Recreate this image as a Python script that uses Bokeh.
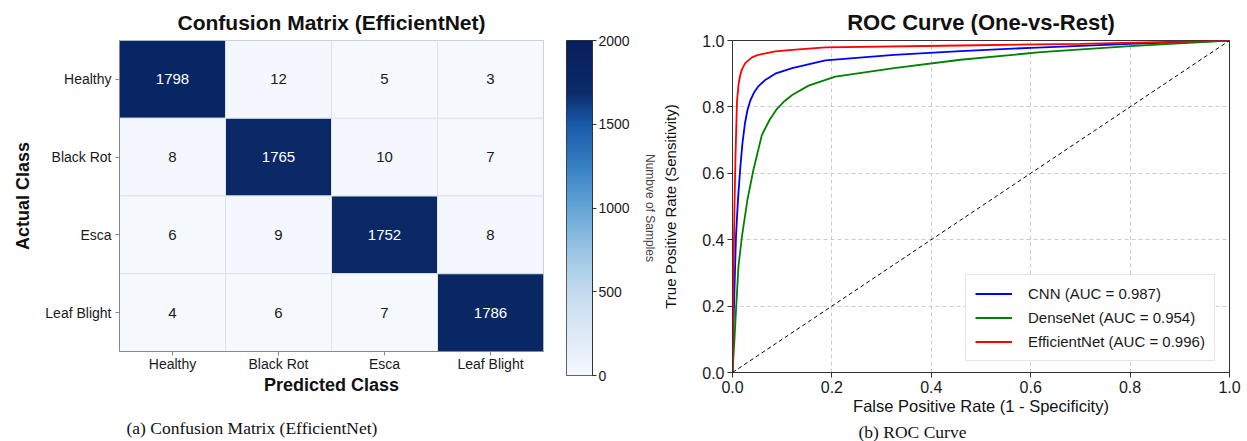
import numpy as np
from bokeh.plotting import figure
from bokeh.layouts import row
from bokeh.models import (FactorRange, Range1d, LinearColorMapper, ColumnDataSource,
                          Title, Legend, LegendItem, FixedTicker, PrintfTickFormatter)
from bokeh.embed import file_html
from bokeh.resources import INLINE
from bokeh.core.properties import value

# ---------------- data ----------------
classes = ["Healthy", "Black Rot", "Esca", "Leaf Blight"]
cm_healthy = [1798, 12, 5, 3]
cm_black_rot = [8, 1765, 10, 7]
cm_esca = [6, 9, 1752, 8]
cm_leaf_blight = [4, 6, 7, 1786]
cbar_ticks = [0, 500, 1000, 1500, 2000]

cnn_fpr = [0.0, 0.003, 0.007, 0.011, 0.0155, 0.02, 0.025, 0.03, 0.036, 0.044, 0.052, 0.065, 0.086, 0.12, 0.187, 0.325, 0.459, 0.6, 0.8, 1.0]
cnn_tpr = [0.0, 0.2, 0.41, 0.52, 0.614, 0.69, 0.75, 0.79, 0.82, 0.845, 0.862, 0.88, 0.9, 0.917, 0.94, 0.957, 0.968, 0.978, 0.99, 1.0]
dense_fpr = [0.0, 0.004, 0.0075, 0.012, 0.019, 0.03, 0.042, 0.059, 0.075, 0.09, 0.105, 0.12, 0.153, 0.207, 0.325, 0.459, 0.62, 0.8, 1.0]
dense_tpr = [0.0, 0.1, 0.2, 0.32, 0.41, 0.52, 0.61, 0.715, 0.762, 0.795, 0.818, 0.836, 0.864, 0.891, 0.917, 0.942, 0.965, 0.983, 1.0]
eff_fpr = [0.0, 0.002, 0.004, 0.006, 0.009, 0.012, 0.0155, 0.019, 0.0256, 0.039, 0.052, 0.086, 0.12, 0.187, 0.46, 0.7, 1.0]
eff_tpr = [0.0, 0.3, 0.5, 0.65, 0.816, 0.866, 0.896, 0.913, 0.932, 0.949, 0.957, 0.967, 0.972, 0.979, 0.985, 0.99, 1.0]
chance = [0.0, 1.0]
roc_ticks = [0.0, 0.2, 0.4, 0.6, 0.8, 1.0]
legend_labels = ["CNN (AUC = 0.987)", "DenseNet (AUC = 0.954)", "EfficientNet (AUC = 0.996)"]

FONT = "Liberation Sans"
SERIF = "Liberation Serif"

# ---------------- colour map (Blues-like, as in the picture) ----------------
anchor_pos = [0.0, 0.125, 0.25, 0.375, 0.5, 0.625, 0.75, 0.85, 1.0]
anchor_hex = ["#f5f9fe", "#dde9f6", "#c4dbef", "#98c4e4", "#64a5d6",
              "#3680c4", "#1a5aaa", "#0a2a68", "#081f5c"]


def _rgb(h):
    return [int(h[i:i + 2], 16) for i in (1, 3, 5)]


_t = np.linspace(0, 1, 256)
_chan = np.array([_rgb(h) for h in anchor_hex])
palette = ["#%02x%02x%02x" % tuple(int(round(np.interp(t, anchor_pos, _chan[:, k]))) for k in range(3))
           for t in _t]
mapper = LinearColorMapper(palette=palette, low=cbar_ticks[0], high=cbar_ticks[-1])

# ---------------- confusion matrix ----------------
rows = [cm_healthy, cm_black_rot, cm_esca, cm_leaf_blight]
xs, ys, vals, labels, tcol = [], [], [], [], []
for i, actual in enumerate(classes):
    for j, pred in enumerate(classes):
        v = rows[i][j]
        xs.append(pred); ys.append(actual); vals.append(v); labels.append(str(v))
        tcol.append("white" if v > 1000 else "#1a1a1a")
src = ColumnDataSource(dict(x=xs, y=ys, v=vals, label=labels, tcol=tcol))

p1 = figure(x_range=FactorRange(*classes), y_range=FactorRange(*classes[::-1]),
            frame_width=424, frame_height=311,
            min_border_left=119, min_border_right=10, min_border_top=37, min_border_bottom=93,
            output_backend="svg", toolbar_location=None)
p1.rect(x="x", y="y", width=1, height=1, source=src,
        fill_color={"field": "v", "transform": mapper}, line_color="#dde3ec", line_width=1)
p1.text(x="x", y="y", text="label", source=src, text_color="tcol", text_align="center",
        text_baseline="middle", text_font=value(FONT), text_font_size="15px")
p1.grid.visible = False
p1.outline_line_color = "#aaaaaa"
for ax in (p1.xaxis, p1.yaxis):
    ax.axis_line_color = "#888888"
    ax.major_tick_line_color = "#888888"
    ax.major_tick_out = 4
    ax.major_tick_in = 0
    ax.major_label_text_font = FONT
    ax.major_label_text_font_size = "14px"
    ax.major_label_text_color = "#1a1a1a"
    ax.axis_label_text_font = FONT
    ax.axis_label_text_font_size = "18px"
    ax.axis_label_text_font_style = "bold"
    ax.axis_label_text_color = "#111111"
p1.xaxis.axis_label = "Predicted Class"
p1.yaxis.axis_label = "Actual Class"
p1.xaxis.major_label_standoff = 0
p1.yaxis.major_label_standoff = 4
p1.xaxis.axis_label_standoff = 0
p1.yaxis.axis_label_standoff = 9
p1.add_layout(Title(text="Confusion Matrix (EfficientNet)", align="center", text_font=FONT,
                    text_font_size="21px", text_font_style="bold", text_color="#111111",
                    standoff=14), "above")
p1.add_layout(Title(text="(a) Confusion Matrix (EfficientNet)", align="left", offset=7,
                    text_font=SERIF, text_font_size="17.5px", text_font_style="normal",
                    text_color="#111111", standoff=36), "below")

# ---------------- colorbar ----------------
p2 = figure(x_range=Range1d(0, 1), y_range=Range1d(cbar_ticks[0], cbar_ticks[-1]),
            frame_width=26, frame_height=335,
            min_border_left=13, min_border_right=67, min_border_top=37, min_border_bottom=69,
            y_axis_location="right", output_backend="svg", toolbar_location=None)
grad = np.linspace(cbar_ticks[0], cbar_ticks[-1], 256).reshape(256, 1)
p2.image(image=[grad], x=0, y=cbar_ticks[0], dw=1, dh=cbar_ticks[-1] - cbar_ticks[0],
         color_mapper=mapper)
p2.xaxis.visible = False
p2.grid.visible = False
p2.outline_line_color = "#333333"
p2.yaxis.ticker = FixedTicker(ticks=cbar_ticks)
p2.yaxis.minor_tick_line_color = None
p2.yaxis.axis_line_color = "#333333"
p2.yaxis.major_tick_line_color = "#333333"
p2.yaxis.major_tick_out = 4
p2.yaxis.major_tick_in = 0
p2.yaxis.major_label_standoff = 2
p2.yaxis.major_label_text_font = FONT
p2.yaxis.major_label_text_font_size = "14px"
p2.yaxis.major_label_text_color = "#1a1a1a"
p2.yaxis.axis_label = "Numbve of Samples"
p2.yaxis.axis_label_text_font = FONT
p2.yaxis.axis_label_text_font_size = "12px"
p2.yaxis.axis_label_text_font_style = "normal"
p2.yaxis.axis_label_standoff = 10

# ---------------- ROC ----------------
p3 = figure(x_range=Range1d(0, 1), y_range=Range1d(0, 1),
            frame_width=497, frame_height=332,
            min_border_left=73, min_border_right=18, min_border_top=40, min_border_bottom=69,
            output_backend="svg", toolbar_location=None)
r_cnn = p3.line(cnn_fpr, cnn_tpr, line_color="#0000ff", line_width=1.8)
r_dense = p3.line(dense_fpr, dense_tpr, line_color="#008000", line_width=1.8)
r_eff = p3.line(eff_fpr, eff_tpr, line_color="#ff0000", line_width=1.8)
p3.line(chance, chance, line_color="black", line_dash="4 3", line_width=1)
p3.grid.ticker = FixedTicker(ticks=roc_ticks)
p3.grid.grid_line_color = "#cccccc"
p3.grid.grid_line_dash = "4 3"
p3.grid.grid_line_width = 1
p3.outline_line_color = "#333333"
for ax in (p3.xaxis, p3.yaxis):
    ax.ticker = FixedTicker(ticks=roc_ticks)
    ax.formatter = PrintfTickFormatter(format="%.1f")
    ax.minor_tick_line_color = None
    ax.axis_line_color = "#333333"
    ax.major_tick_line_color = "#333333"
    ax.major_tick_out = 5
    ax.major_tick_in = 0
    ax.major_label_standoff = 3
    ax.major_label_text_font = FONT
    ax.major_label_text_font_size = "16px"
    ax.major_label_text_color = "#1a1a1a"
    ax.axis_label_text_font = FONT
    ax.axis_label_text_font_style = "normal"
    ax.axis_label_text_color = "#111111"
p3.xaxis.axis_label = "False Positive Rate (1 - Specificity)"
p3.yaxis.axis_label = "True Positive Rate (Sensitivity)"
p3.xaxis.axis_label_text_font_size = "16.5px"
p3.yaxis.axis_label_text_font_size = "15px"
p3.xaxis.axis_label_standoff = 1
p3.yaxis.axis_label_standoff = 20
legend = Legend(items=[LegendItem(label=legend_labels[0], renderers=[r_cnn]),
                       LegendItem(label=legend_labels[1], renderers=[r_dense]),
                       LegendItem(label=legend_labels[2], renderers=[r_eff])],
                location=(233, 11))
legend.label_text_font = FONT
legend.label_text_font_size = "15px"
legend.label_text_color = "#1a1a1a"
legend.glyph_width = 37
legend.glyph_height = 19
legend.label_height = 19
legend.label_standoff = 16
legend.spacing = 5
legend.padding = 9
legend.margin = 0
legend.border_line_color = "#cccccc"
legend.background_fill_alpha = 0.9
p3.add_layout(legend)
p3.add_layout(Title(text="ROC Curve (One-vs-Rest)", align="center", text_font=FONT,
                    text_font_size="22px", text_font_style="bold", text_color="#111111",
                    standoff=11), "above")
p3.add_layout(Title(text="(b) ROC Curve", align="left", offset=126,
                    text_font=SERIF, text_font_size="17.5px", text_font_style="normal",
                    text_color="#111111", standoff=5), "below")

layout = row(p1, p2, p3, spacing=0)
open("out.html", "w").write(file_html(layout, INLINE))
